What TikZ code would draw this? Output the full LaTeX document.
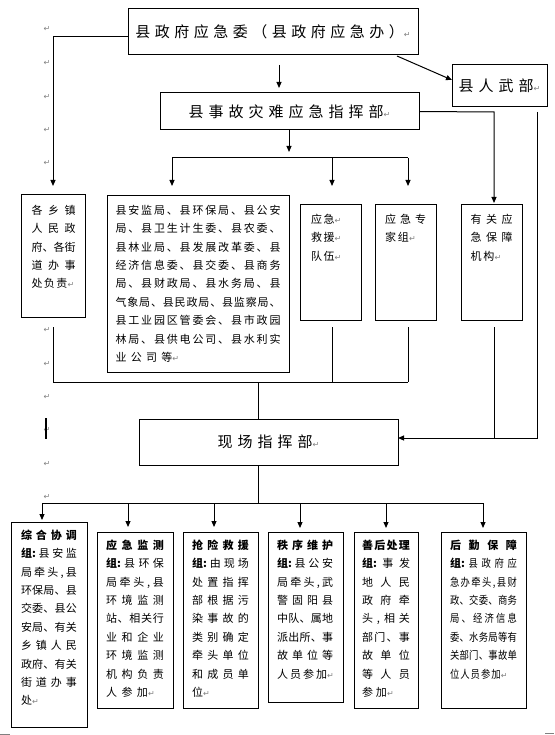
\documentclass[tikz,border=0pt]{standalone}
\usepackage{fontspec}
\setmainfont{Noto Sans CJK SC}
\newfontfamily\dejavu{DejaVu Sans}
\newfontfamily\narrowcjk[FakeStretch=0.85]{Noto Sans CJK SC}
\usetikzlibrary{arrows.meta,calc}
\definecolor{retgray}{HTML}{808080}

\newskip\cgap
\def\jusi#1{\ifx\relax#1\else#1\hskip\cgap\expandafter\jusi\fi}
\newcommand\jl[2]{\hbox to #1{\cgap=0pt plus 1fill\relax\jusi#2\relax\unskip}}
\newcommand\gl[2]{\hbox{\cgap=#1\relax\jusi#2\relax\unskip}}
\newcommand\ret{{\dejavu\fontsize{8}{8}\selectfont\color{retgray}↵}}
% #1 height, #2 width, #3 first baseline, #4 lines
\newcommand\col[4]{\vbox to #1{\baselineskip=18.4pt\lineskiplimit=-100pt\lineskip=0pt
  \vskip\dimexpr#3-18.4pt\relax\hbox to #2{}#4\vss}}

\begin{document}
\begin{tikzpicture}[x=1pt,y=-1pt,
  box/.style={draw, line width=1pt, fill=white, inner sep=0pt, outer sep=0pt},
  conn/.style={line width=1pt},
  arr/.style={conn, -{Triangle[length=6pt,width=5pt]}},
  big/.style={font=\fontsize{15}{15}\selectfont},
  small/.style={font=\fontsize{11}{11}\selectfont},
  rmark/.style={inner sep=0pt, text=retgray, font=\dejavu\fontsize{8}{8}\selectfont}]
\useasboundingbox (0,0) rectangle (554,735);

% paragraph marks at left margin
\foreach \y [count=\i] in {29,63,97,130,163,330,364,397,430,464,497}
  \node[rmark] (rm\i) at (47,\y) {↵};
\fill (45.3,418) rectangle (46.8,439);
\draw[retgray, line width=1pt] (0,734) -- (10,734);
\draw[retgray, line width=1pt] (545,733) -- (554,733);

% top level
\node[box, big, minimum width=290, minimum height=46] (gov) at (273,32)
  {\gl{4.5pt}{县政府应急委（县政府应急办）}\ret};
\node[box, big, minimum width=259, minimum height=37] (cmd) at (289.5,111.5)
  {\gl{5pt}{县事故灾难应急指挥部}\ret};
\node[box, big, minimum width=95, minimum height=42] (wz) at (499.5,86)
  {\gl{5pt}{县人武部}\ret};
\node[box, big, minimum width=259, minimum height=46] (scene) at (268.5,442)
  {\gl{5pt}{现场指挥部}\ret};

% middle row
\node[box, small, minimum width=64, minimum height=122] (town) at (53.5,256)
  {\col{122pt}{44pt}{19.2pt}{%
   \jl{44pt}{各乡镇}
   \jl{44pt}{人民政}
   \jl{44pt}{府、各街}
   \jl{44pt}{道办事}
   \hbox{\jl{36pt}{处负责}\ret}}};
\node[box, small, minimum width=182, minimum height=176] (depts) at (198,284)
  {\col{176pt}{165pt}{18.2pt}{%
   \jl{165pt}{县安监局、县环保局、县公安}
   \jl{165pt}{局、县卫生计生委、县农委、}
   \jl{165pt}{县林业局、县发展改革委、县}
   \jl{165pt}{经济信息委、县交委、县商务}
   \jl{165pt}{局、县财政局、县水务局、县}
   \jl{165pt}{气象局、县民政局、县监察局、}
   \jl{165pt}{县工业园区管委会、县市政园}
   \jl{165pt}{林局、县供电公司、县水利实}
   \hbox{\gl{4.3pt}{业公司等}\ret}}};
\node[box, small, minimum width=61, minimum height=115] (rescue) at (330.5,262.5)
  {\col{115pt}{39pt}{18.2pt}{%
   \hbox{\gl{1.5pt}{应急}\ret}
   \hbox{\gl{1.5pt}{救援}\ret}
   \hbox{\gl{1.5pt}{队伍}\ret}}};
\node[box, small, minimum width=61, minimum height=115] (expert) at (405.5,262.5)
  {\col{115pt}{41pt}{18.2pt}{%
   \jl{41pt}{应急专}
   \hbox{\gl{2pt}{家组}\ret}}};
\node[box, small, minimum width=61, minimum height=115] (support) at (491.5,262.5)
  {\col{115pt}{42pt}{18.2pt}{%
   \jl{42pt}{有关应}
   \jl{42pt}{急保障}
   \hbox{\gl{2pt}{机构}\ret}}};

% bottom groups
\node[box, small, minimum width=76, minimum height=205] (g1) at (49,624.5)
  {\col{205pt}{56pt}{17.2pt}{%
   {\bfseries\jl{56pt}{综合协调}}
   \jl{56pt}{{{\bfseries 组:}}县安监}
   \jl{56pt}{局牵头,县}
   \jl{56pt}{环保局、县}
   \jl{56pt}{交委、县公}
   \jl{56pt}{安局、有关}
   \jl{56pt}{乡镇人民}
   \jl{56pt}{政府、有关}
   \jl{56pt}{街道办事}
   \hbox{\gl{3pt}{处}\ret}}};
\node[box, small, minimum width=76, minimum height=176] (g2) at (135,620)
  {\col{176pt}{58pt}{17.2pt}{%
   {\bfseries\jl{58pt}{应急监测}}
   \jl{58pt}{{{\bfseries 组:}}县环保}
   \jl{58pt}{局牵头,县}
   \jl{58pt}{环境监测}
   \jl{58pt}{站、相关行}
   \jl{58pt}{业和企业}
   \jl{58pt}{环境监测}
   \jl{58pt}{机构负责}
   \hbox{\gl{4.5pt}{人参加}\ret}}};
\node[box, small, minimum width=75, minimum height=176] (g3) at (220.5,620)
  {\col{176pt}{57pt}{17.2pt}{%
   {\bfseries\jl{57pt}{抢险救援}}
   \jl{57pt}{{{\bfseries 组:}}由现场}
   \jl{57pt}{处置指挥}
   \jl{57pt}{部根据污}
   \jl{57pt}{染事故的}
   \jl{57pt}{类别确定}
   \jl{57pt}{牵头单位}
   \jl{57pt}{和成员单}
   \hbox{\gl{3pt}{位}\ret}}};
\node[box, small, minimum width=75, minimum height=170] (g4) at (305.5,617)
  {\col{170pt}{56pt}{17.2pt}{%
   {\bfseries\jl{56pt}{秩序维护}}
   \jl{56pt}{{{\bfseries 组:}}县公安}
   \jl{56pt}{局牵头,武}
   \jl{56pt}{警固阳县}
   \jl{56pt}{中队、属地}
   \jl{56pt}{派出所、事}
   \jl{56pt}{故单位等}
   \hbox{\gl{2pt}{人员参加}\ret}}};
\node[box, small, minimum width=64, minimum height=176] (g5) at (386,620)
  {\col{176pt}{48pt}{17.2pt}{%
   {\bfseries\jl{48pt}{善后处理}}
   \jl{48pt}{{{\bfseries 组:}}事发}
   \jl{48pt}{地人民}
   \jl{48pt}{政府牵}
   \jl{48pt}{头,相关}
   \jl{48pt}{部门、事}
   \jl{48pt}{故单位}
   \jl{48pt}{等人员}
   \hbox{\gl{3pt}{参加}\ret}}};
\node[box, small, minimum width=85, minimum height=176] (g6) at (483.5,620)
  {\col{176pt}{67pt}{17.2pt}{%
   {\bfseries\jl{67pt}{后勤保障}}
   {\narrowcjk\jl{67pt}{{{\normalfont\bfseries 组:}}县政府应}}
   {\narrowcjk\jl{67pt}{急办牵头,县财}}
   {\narrowcjk\jl{67pt}{政、交委、商务}}
   {\narrowcjk\jl{67pt}{局、经济信息}}
   {\narrowcjk\jl{67pt}{委、水务局等有}}
   {\narrowcjk\jl{67pt}{关部门、事故单}}
   {\narrowcjk\hbox{\gl{1pt}{位人员参加}\ret}}}};

% connectors: top
\coordinate (v1) at (279,0);
\draw[arr, shorten <=10pt, shorten >=5pt] (v1 |- gov.south) -- (v1 |- cmd.north);
\coordinate (g0) at (53,37);
\draw[arr, shorten >=9pt] (g0 -| gov.west) -- (g0) -- (g0 |- town.north);
\draw[arr] ($(gov.south east)+(-21,1)$) -- ($(wz.west)+(0,-6)$);
\coordinate (r1) at (494,112);
\draw[arr, shorten >=2pt] (cmd.east) -- (r1) -- (r1 |- support.north);

% branch bar under command
\coordinate (m0) at (289,158);
\coordinate (m1) at (172,158);
\coordinate (m2) at (332,158);
\coordinate (m3) at (408,158);
\draw[arr, shorten >=6pt] (m0 |- cmd.south) -- (m0);
\draw[conn] (m1) -- (m3);
\draw[arr, shorten >=10pt] (m1) -- (m1 |- depts.north);
\draw[arr, shorten >=19pt] (m2) -- (m2 |- rescue.north);
\draw[arr, shorten >=19pt] (m3) -- (m3 |- expert.north);

% collecting bar to scene
\coordinate (l1) at (53,382);
\coordinate (l2) at (332,382);
\coordinate (l3) at (408,382);
\coordinate (s2) at (258,382);
\draw[conn, shorten <=10pt] (l1 |- town.south) -- (l1) -- (l3);
\draw[conn, shorten <=7pt] (l2 |- rescue.south) -- (l2);
\draw[conn, shorten <=7pt] (l3 |- expert.south) -- (l3);
\draw[conn] (s2) -- (s2 |- scene.north);

% right side into scene
\coordinate (r2) at (494,438);
\coordinate (r3) at (537,438);
\draw[arr, shorten <=7pt] (r2 |- support.south) -- (r2) -- (r2 -| scene.east);
\draw[conn, shorten <=5pt] (r3 |- wz.south) -- (r3) -- (r2);

% bottom bar
\coordinate (s3) at (258,503);
\coordinate (a1) at (42,503);
\coordinate (a2) at (128,503);
\coordinate (a3) at (214,503);
\coordinate (a4) at (300,503);
\coordinate (a5) at (386,503);
\coordinate (a6) at (483,503);
\draw[conn] (s3 |- scene.south) -- (s3);
\draw[conn] (a1) -- (a6);
\draw[arr, shorten >=2pt] (a1) -- (a1 |- g1.north);
\draw[arr, shorten >=5pt] (a2) -- (a2 |- g2.north);
\draw[arr, shorten >=5pt] (a3) -- (a3 |- g3.north);
\draw[arr, shorten >=4pt] (a4) -- (a4 |- g4.north);
\draw[arr, shorten >=4pt] (a5) -- (a5 |- g5.north);
\draw[arr, shorten >=4pt] (a6) -- (a6 |- g6.north);
\end{tikzpicture}
\end{document}
